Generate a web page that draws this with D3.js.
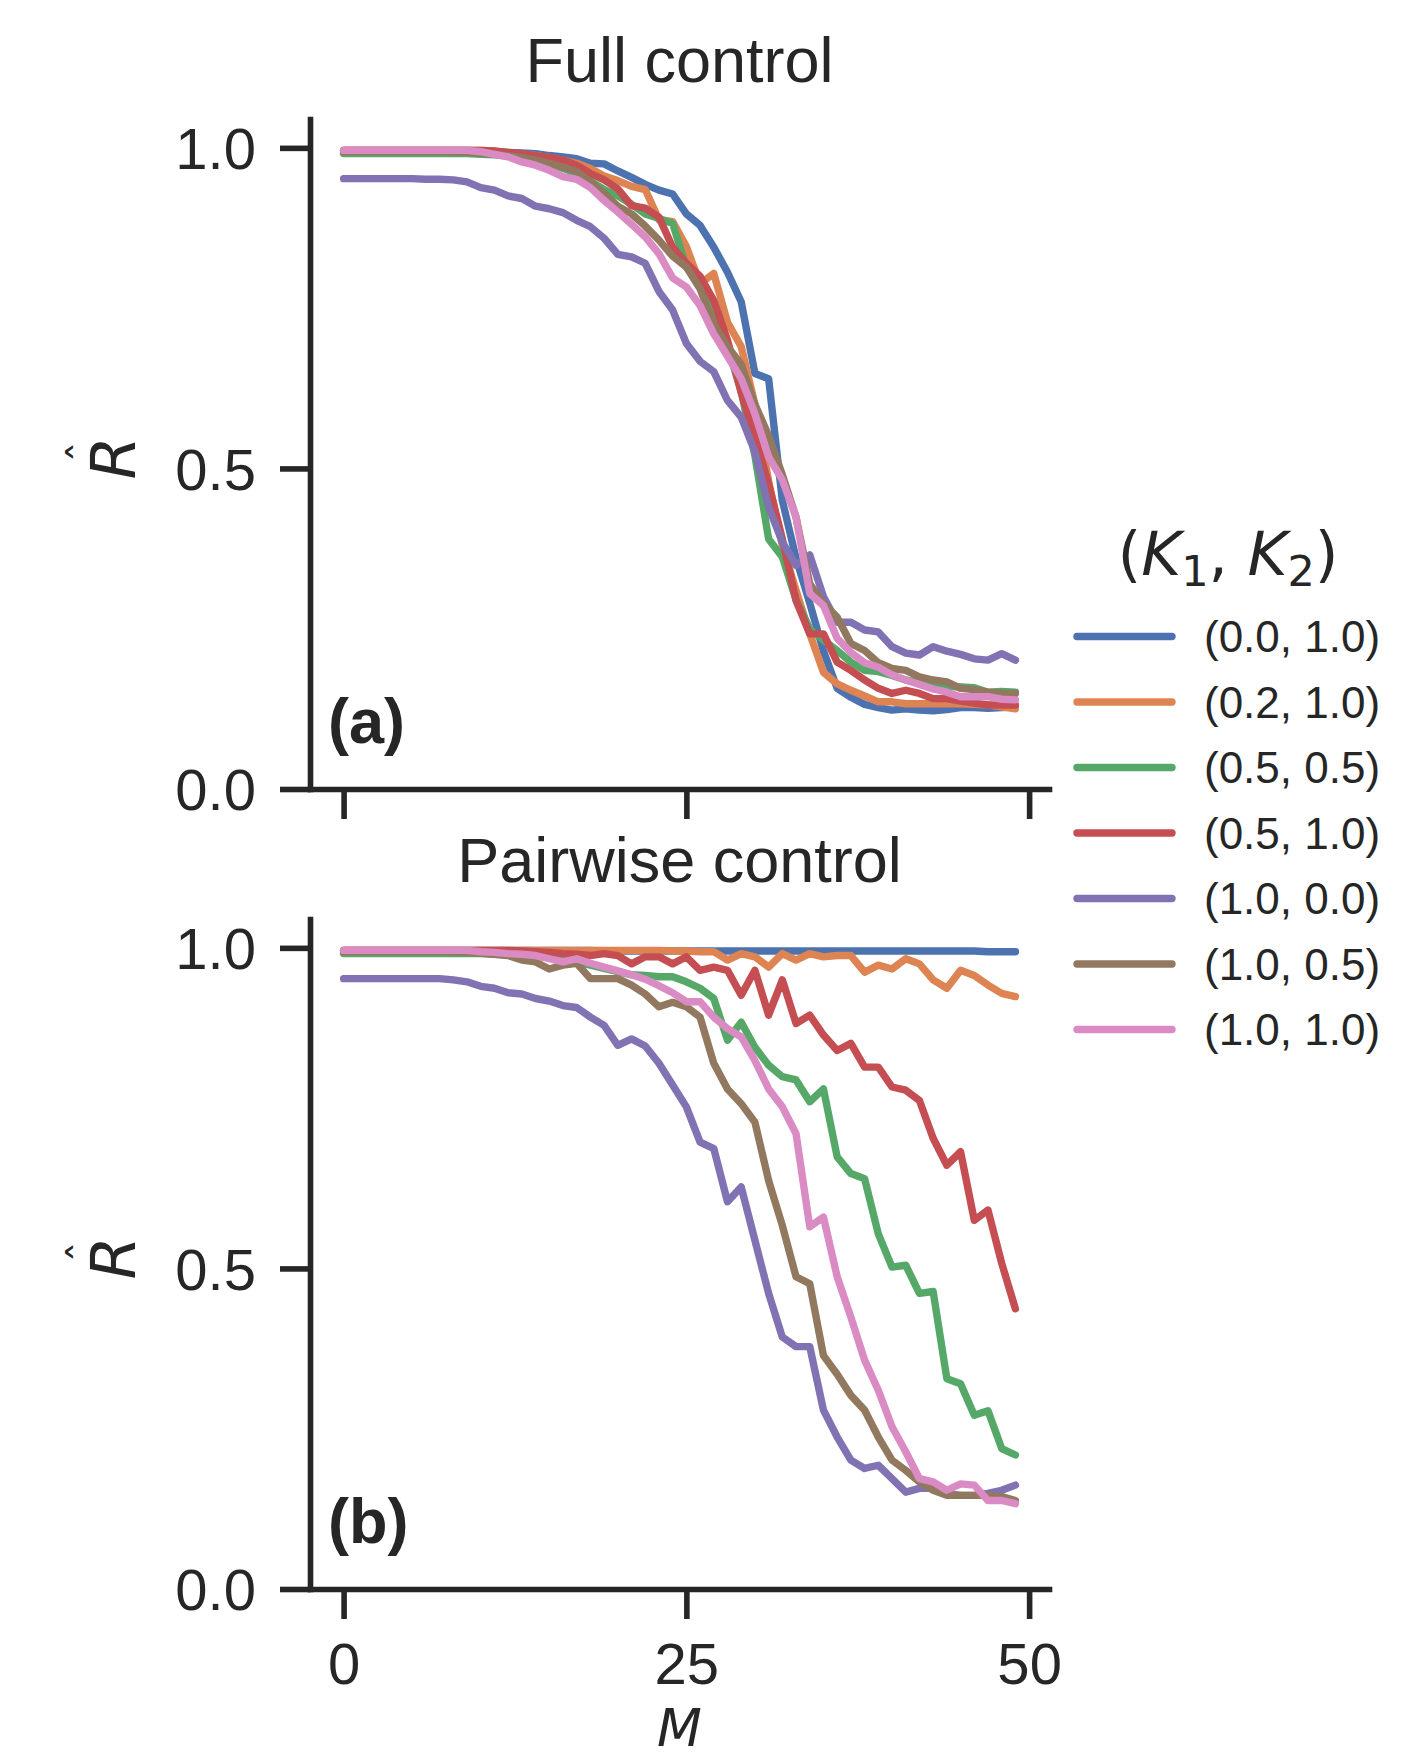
<!DOCTYPE html>
<html>
<head>
<meta charset="utf-8">
<script src="https://cdn.jsdelivr.net/npm/d3@7"></script>
<style>
  body { margin: 0; background: #ffffff; }
  svg { display: block; }
</style>
</head>
<body>
<svg id="chart" width="1418" height="1760"></svg>
<script>
// ---------------- DATA ----------------
const M = [0,1,2,3,4,5,6,7,8,9,10,11,12,13,14,15,16,17,18,19,20,21,22,23,24,
           25,26,27,28,29,30,31,32,33,34,35,36,37,38,39,40,41,42,43,44,45,46,47,48,49];

const seriesLabels = ["(0.0, 1.0)", "(0.2, 1.0)", "(0.5, 0.5)", "(0.5, 1.0)", "(1.0, 0.0)", "(1.0, 0.5)", "(1.0, 1.0)"];
const seriesColors = ["#4C72B0", "#DD8452", "#55A868", "#C44E52", "#8172B3", "#937860", "#DA8BC3"];

const panelTitles = ["Full control", "Pairwise control"];
const panelTags = ["(a)", "(b)"];
const yTicks = [0.0, 0.5, 1.0];
const xTicks = [0, 25, 50];

// Full control (a)
const full_00_10 = [0.996,0.996,0.996,0.996,0.996,0.996,0.996,0.996,0.996,0.996,0.995,0.994,0.993,0.992,0.991,0.988,0.986,0.983,0.976,0.975,
  0.964,0.954,0.943,0.934,0.928,0.897,0.879,0.845,0.806,0.760,0.648,0.640,0.450,0.360,0.290,0.215,0.157,0.143,0.132,0.127,
  0.123,0.125,0.123,0.122,0.124,0.127,0.127,0.126,0.127,0.128];
const full_02_10 = [0.996,0.996,0.996,0.996,0.996,0.996,0.996,0.996,0.996,0.996,0.996,0.995,0.992,0.990,0.988,0.985,0.981,0.976,0.968,0.956,
  0.949,0.940,0.935,0.888,0.885,0.846,0.788,0.804,0.728,0.690,0.600,0.480,0.380,0.310,0.242,0.182,0.164,0.154,0.145,0.136,
  0.136,0.133,0.133,0.133,0.133,0.133,0.132,0.131,0.128,0.125];
const full_05_05 = [0.991,0.991,0.991,0.991,0.991,0.991,0.991,0.991,0.991,0.991,0.990,0.989,0.987,0.984,0.980,0.975,0.968,0.960,0.948,0.935,
  0.925,0.912,0.897,0.890,0.882,0.814,0.790,0.750,0.690,0.620,0.520,0.390,0.362,0.295,0.250,0.232,0.216,0.198,0.185,0.183,
  0.177,0.170,0.166,0.162,0.160,0.159,0.158,0.151,0.152,0.151];
const full_05_10 = [0.996,0.996,0.996,0.996,0.996,0.996,0.996,0.996,0.996,0.996,0.996,0.995,0.993,0.991,0.988,0.985,0.981,0.973,0.960,0.950,
  0.936,0.910,0.906,0.892,0.845,0.820,0.800,0.762,0.700,0.618,0.549,0.476,0.390,0.294,0.242,0.242,0.198,0.185,0.170,0.157,
  0.149,0.154,0.149,0.141,0.141,0.137,0.134,0.131,0.131,0.131];
const full_10_00 = [0.952,0.952,0.952,0.952,0.952,0.952,0.951,0.951,0.950,0.947,0.938,0.934,0.925,0.921,0.909,0.905,0.899,0.887,0.877,0.859,
  0.834,0.830,0.820,0.776,0.747,0.695,0.667,0.651,0.606,0.580,0.526,0.440,0.385,0.349,0.365,0.300,0.260,0.260,0.248,0.245,
  0.222,0.212,0.209,0.222,0.215,0.210,0.203,0.201,0.211,0.201];
const full_10_05 = [0.994,0.994,0.994,0.994,0.994,0.994,0.994,0.994,0.994,0.993,0.992,0.990,0.988,0.985,0.981,0.976,0.970,0.963,0.947,0.929,
  0.909,0.897,0.878,0.856,0.831,0.814,0.780,0.725,0.690,0.662,0.600,0.551,0.490,0.424,0.320,0.289,0.268,0.227,0.216,0.197,
  0.188,0.185,0.175,0.170,0.167,0.157,0.155,0.151,0.149,0.149];
const full_10_10 = [0.996,0.996,0.996,0.996,0.996,0.996,0.996,0.996,0.996,0.996,0.994,0.990,0.986,0.978,0.973,0.965,0.955,0.951,0.938,0.918,
  0.900,0.881,0.861,0.835,0.797,0.783,0.754,0.710,0.675,0.640,0.585,0.518,0.482,0.424,0.305,0.286,0.235,0.213,0.197,0.190,
  0.178,0.170,0.163,0.156,0.151,0.144,0.144,0.144,0.140,0.139];

// Pairwise control (b)
const pair_00_10 = [0.996,0.996,0.996,0.996,0.996,0.996,0.996,0.996,0.996,0.996,0.996,0.996,0.996,0.996,0.996,0.996,0.996,0.996,0.996,0.995,
  0.995,0.995,0.995,0.995,0.995,0.995,0.995,0.995,0.995,0.995,0.995,0.995,0.995,0.995,0.995,0.995,0.995,0.995,0.995,0.995,
  0.995,0.995,0.995,0.995,0.995,0.995,0.995,0.994,0.994,0.994];
const pair_02_10 = [0.996,0.996,0.996,0.996,0.996,0.996,0.996,0.996,0.996,0.996,0.996,0.996,0.996,0.996,0.996,0.996,0.996,0.996,0.996,0.996,
  0.996,0.996,0.996,0.996,0.995,0.995,0.994,0.994,0.981,0.991,0.986,0.970,0.991,0.981,0.991,0.986,0.988,0.988,0.962,0.973,
  0.967,0.983,0.975,0.950,0.937,0.965,0.957,0.942,0.929,0.924];
const pair_05_05 = [0.991,0.991,0.991,0.991,0.991,0.991,0.991,0.991,0.991,0.991,0.991,0.990,0.989,0.988,0.987,0.985,0.982,0.978,0.973,0.968,
  0.963,0.958,0.957,0.955,0.955,0.947,0.937,0.921,0.856,0.884,0.845,0.817,0.799,0.794,0.760,0.780,0.674,0.648,0.640,0.554,
  0.502,0.505,0.461,0.464,0.328,0.320,0.271,0.278,0.219,0.209];
const pair_05_10 = [0.996,0.996,0.996,0.996,0.996,0.996,0.996,0.996,0.996,0.996,0.996,0.996,0.996,0.995,0.994,0.993,0.991,0.990,0.988,0.991,
  0.988,0.975,0.986,0.986,0.975,0.986,0.965,0.970,0.965,0.926,0.965,0.895,0.950,0.882,0.895,0.864,0.840,0.851,0.814,0.814,
  0.783,0.778,0.762,0.703,0.661,0.682,0.575,0.591,0.508,0.437];
const pair_10_00 = [0.952,0.952,0.952,0.952,0.952,0.952,0.952,0.952,0.950,0.947,0.940,0.937,0.930,0.928,0.921,0.917,0.910,0.907,0.892,0.879,
  0.848,0.858,0.847,0.820,0.786,0.752,0.697,0.687,0.604,0.627,0.544,0.461,0.393,0.378,0.378,0.279,0.237,0.201,0.188,0.193,
  0.172,0.151,0.157,0.157,0.149,0.146,0.146,0.149,0.154,0.162];
const pair_10_05 = [0.994,0.994,0.994,0.994,0.994,0.994,0.994,0.994,0.994,0.993,0.992,0.990,0.988,0.981,0.978,0.967,0.973,0.976,0.952,0.952,
  0.952,0.942,0.928,0.908,0.915,0.908,0.892,0.820,0.780,0.757,0.728,0.637,0.567,0.487,0.476,0.364,0.335,0.302,0.279,0.237,
  0.201,0.185,0.167,0.154,0.146,0.146,0.146,0.146,0.144,0.138];
const pair_10_10 = [0.996,0.996,0.996,0.996,0.996,0.996,0.996,0.996,0.996,0.996,0.994,0.993,0.991,0.990,0.988,0.983,0.978,0.983,0.976,0.970,
  0.964,0.958,0.951,0.941,0.930,0.916,0.916,0.892,0.874,0.861,0.824,0.780,0.752,0.710,0.565,0.580,0.487,0.424,0.357,0.310,
  0.253,0.214,0.172,0.167,0.154,0.164,0.162,0.138,0.138,0.133];

const panelSeries = [
  [full_00_10, full_02_10, full_05_05, full_05_10, full_10_00, full_10_05, full_10_10],
  [pair_00_10, pair_02_10, pair_05_05, pair_05_10, pair_10_00, pair_10_05, pair_10_10]
];

// ---------------- LAYOUT ----------------
const ink = "#262626";
const svg = d3.select("#chart");
svg.append("rect").attr("width", 1418).attr("height", 1760).attr("fill", "#ffffff");

const left = 310, right = 1049;
const panels = [{top: 119, bottom: 789}, {top: 919, bottom: 1589}];

const x = d3.scaleLinear().domain([-2.45, 51.45]).range([left, right]);

const lineW = 7.4, axisW = 5.6, tickLen = 30;
const tickFont = "'Liberation Sans', Arial, sans-serif";
const mathFont = "'DejaVu Sans', sans-serif";

panels.forEach((p, pi) => {
  const y = d3.scaleLinear().domain([0, 1.045]).range([p.bottom, p.top]);
  const g = svg.append("g");

  // lines
  const line = d3.line().x((d, i) => x(M[i])).y(d => y(d));
  panelSeries[pi].forEach((vals, si) => {
    g.append("path")
      .datum(vals)
      .attr("d", line)
      .attr("fill", "none")
      .attr("stroke", seriesColors[si])
      .attr("stroke-width", lineW)
      .attr("stroke-linejoin", "round")
      .attr("stroke-linecap", "round");
  });

  // y axis
  const yAxis = d3.axisLeft(y).tickValues(yTicks).tickFormat(d3.format(".1f"))
    .tickSize(tickLen).tickSizeOuter(0).tickPadding(24);
  const ya = g.append("g").attr("transform", `translate(${left},0)`).call(yAxis);
  ya.select(".domain").attr("stroke", ink).attr("stroke-width", axisW).attr("stroke-linecap", "square");
  ya.selectAll(".tick line").attr("stroke", ink).attr("stroke-width", axisW);
  ya.selectAll(".tick text").attr("fill", ink).attr("font-family", tickFont)
    .attr("font-size", 58).attr("dy", "0.36em");

  // x axis
  const xAxis = d3.axisBottom(x).tickValues(xTicks)
    .tickFormat(pi === 1 ? d3.format("d") : () => "")
    .tickSize(tickLen).tickSizeOuter(0).tickPadding(0);
  const xa = g.append("g").attr("transform", `translate(0,${p.bottom})`).call(xAxis);
  xa.select(".domain").attr("stroke", ink).attr("stroke-width", axisW).attr("stroke-linecap", "square");
  xa.selectAll(".tick line").attr("stroke", ink).attr("stroke-width", axisW);
  xa.selectAll(".tick text").attr("fill", ink).attr("font-family", tickFont)
    .attr("font-size", 58).attr("y", 95).attr("dy", 0);
  xa.selectAll("text").attr("font-family", tickFont);
  ya.selectAll("text").attr("font-family", tickFont);

  // title
  g.append("text")
    .attr("x", (left + right) / 2).attr("y", p.top - 37)
    .attr("text-anchor", "middle")
    .attr("font-family", tickFont).attr("font-size", 63).attr("fill", ink)
    .text(panelTitles[pi]);

  // panel tag
  g.append("text")
    .attr("x", 328).attr("y", p.bottom - 46)
    .attr("font-family", tickFont).attr("font-weight", "bold")
    .attr("font-size", 63).attr("fill", ink)
    .text(panelTags[pi]);

  // y label  R-hat (rotated)
  const yc = (p.top + p.bottom) / 2 + 4;
  const yl = g.append("g").attr("transform", `translate(135,${yc}) rotate(-90)`);
  yl.append("text")
    .attr("x", 0).attr("y", 0).attr("text-anchor", "middle")
    .attr("font-family", mathFont).attr("font-style", "italic")
    .attr("font-size", 62).attr("fill", ink)
    .text("R");
  yl.append("text")
    .attr("x", 6).attr("y", -34).attr("text-anchor", "middle")
    .attr("font-family", mathFont)
    .attr("font-size", 44).attr("fill", ink)
    .text("\u02C6");
});

// x label (kept inside the picture, clear of the tick labels)
svg.append("text")
  .attr("x", (left + right) / 2).attr("y", 1746)
  .attr("text-anchor", "middle")
  .attr("font-family", mathFont).attr("font-style", "italic")
  .attr("font-size", 52).attr("fill", ink)
  .text("M");

// legend
const legX = 1077, legX2 = 1172, legTextX = 1204, legY0 = 636.5, legDY = 65.5;
const legTitle = svg.append("text")
  .attr("x", 1228).attr("y", 575)
  .attr("text-anchor", "middle")
  .attr("font-family", mathFont).attr("font-size", 61).attr("fill", ink);
legTitle.append("tspan").text("(");
legTitle.append("tspan").attr("font-style", "italic").text("K");
legTitle.append("tspan").attr("font-size", 43).attr("dy", 11).text("1");
legTitle.append("tspan").attr("dy", -11).text(", ");
legTitle.append("tspan").attr("font-style", "italic").text("K");
legTitle.append("tspan").attr("font-size", 43).attr("dy", 11).text("2");
legTitle.append("tspan").attr("dy", -11).text(")");

const leg = svg.append("g");
seriesLabels.forEach((lab, i) => {
  const yy = legY0 + i * legDY;
  leg.append("line")
    .attr("x1", legX).attr("x2", legX2).attr("y1", yy).attr("y2", yy)
    .attr("stroke", seriesColors[i]).attr("stroke-width", lineW)
    .attr("stroke-linecap", "round");
  leg.append("text")
    .attr("x", legTextX).attr("y", yy).attr("dy", "0.36em")
    .attr("font-family", tickFont).attr("font-size", 44).attr("fill", ink)
    .text(lab);
});
</script>
</body>
</html>
